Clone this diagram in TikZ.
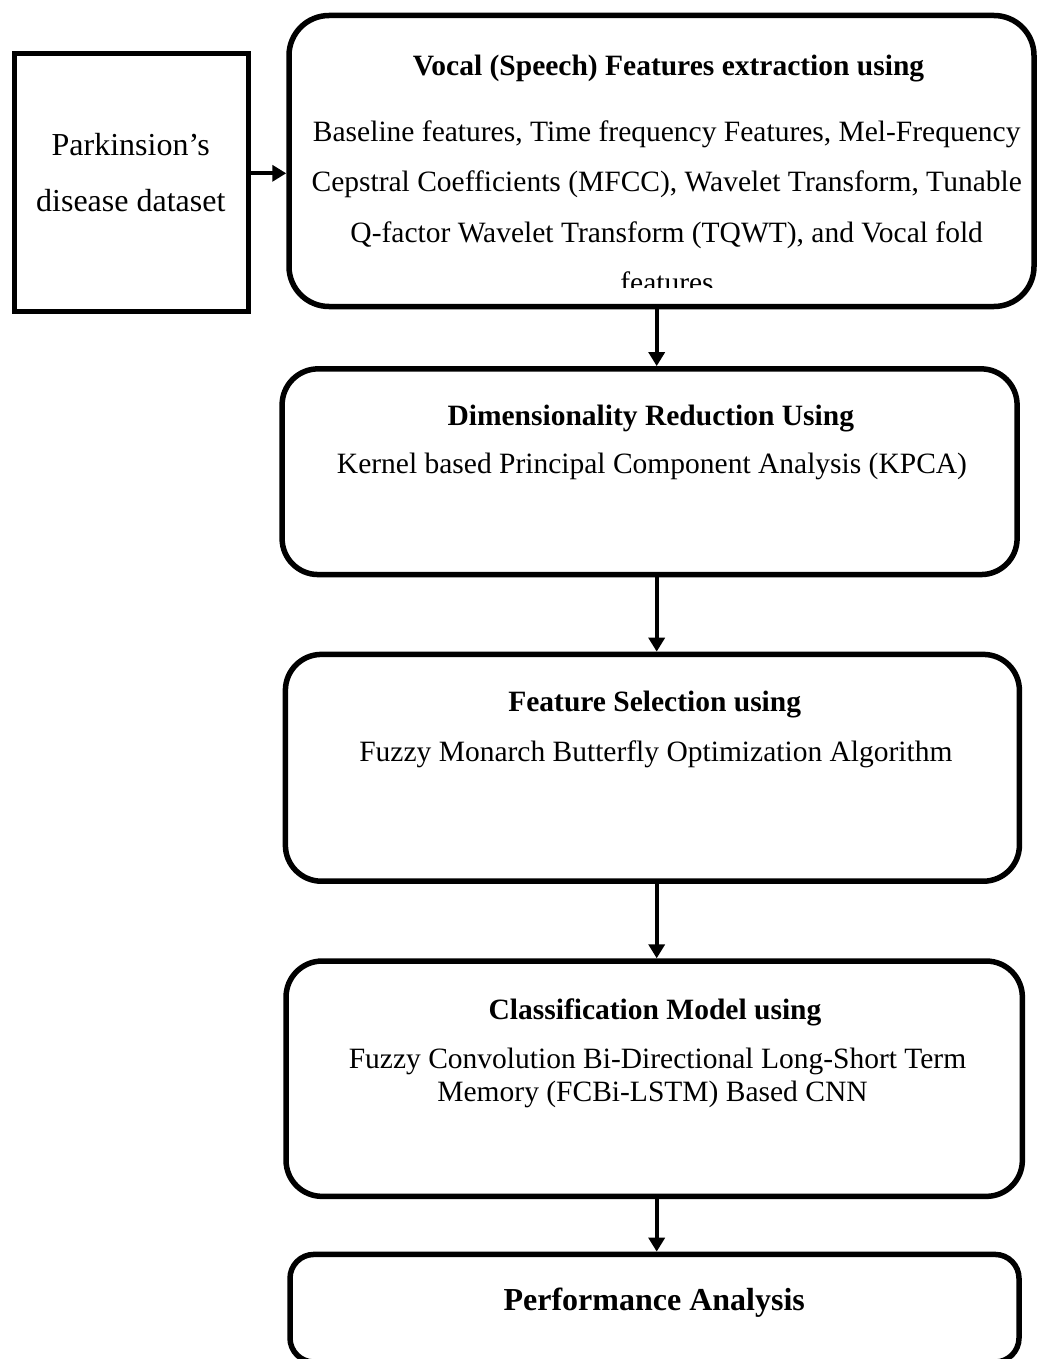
\documentclass[tikz,border=0pt]{standalone}
\usepackage{fontspec}
\setmainfont{Liberation Serif}
\usetikzlibrary{arrows.meta}
\begin{document}
\begin{tikzpicture}[x=1pt,y=-1pt,
  box/.style={draw, line width=5.5pt, rounded corners=36pt, inner sep=0pt},
  sqbox/.style={draw, line width=5pt, inner sep=0pt},
  arr/.style={line width=4pt, -{Triangle[length=14pt,width=16pt]}},
  ln/.style={anchor=base, inner sep=0pt, font=\fontsize{29.5}{34}\selectfont},
  ttl/.style={ln, font=\fontsize{29.5}{34}\selectfont\bfseries},
]
\useasboundingbox (0,0) rectangle (1037,1359);

% process boxes
\node[sqbox, minimum width=233.5pt, minimum height=258.3pt] (src) at (131.25,182.35) {};
\node[box, rounded corners=40pt, minimum width=745pt, minimum height=291pt] (vox) at (661.5,161) {};
\node[box, minimum width=735pt, minimum height=205.7pt] (dim) at (649.6,471.7) {};
\node[box, minimum width=734pt, minimum height=226.8pt] (fs) at (652.4,767.8) {};
\node[box, minimum width=736.3pt, minimum height=235.3pt] (cls) at (654.2,1078.7) {};
\node[box, rounded corners=24pt, minimum width=729pt, minimum height=107.6pt] (perf) at (654.5,1308.2) {};

% input data
\node[ln, font=\fontsize{32}{36}\selectfont] (src1) at (130.8,156) {Parkinsion’s};
\node[ln, font=\fontsize{32}{36}\selectfont] (src2) at (130.8,211.7) {disease dataset};

% feature extraction
\node[ttl] (voxT) at (668.5,76) {Vocal (Speech) Features extraction using};
\begin{scope}
  \clip (292,20) rectangle (1030,287.5);
  \node[ln] (vox1) at (666.7,142) {Baseline features, Time frequency Features, Mel-Frequency};
  \node[ln] (vox2) at (666.7,192) {Cepstral Coefficients (MFCC), Wavelet Transform, Tunable};
  \node[ln] (vox3) at (666.7,242) {Q-factor Wavelet Transform (TQWT), and Vocal fold};
  \node[ln] (vox4) at (667,292) {features};
\end{scope}

% dimensionality reduction
\node[ttl] (dimT) at (650.8,425) {Dimensionality Reduction Using};
\node[ln] (dimB) at (652,473.3) {Kernel based Principal Component Analysis (KPCA)};

% feature selection
\node[ttl] (fsT) at (654.7,711.7) {Feature Selection using};
\node[ln] (fsB) at (655.9,761.7) {Fuzzy Monarch Butterfly Optimization Algorithm};

% classification
\node[ttl] (clsT) at (655,1019.3) {Classification Model using};
\node[ln] (cls1) at (657.5,1068.3) {Fuzzy Convolution Bi-Directional Long-Short Term};
\node[ln] (cls2) at (652.5,1101.7) {Memory (FCBi-LSTM) Based CNN};

% evaluation
\node[ttl, font=\fontsize{32}{36}\selectfont\bfseries] (perfT) at (654.2,1310) {Performance Analysis};

% connectors
\coordinate (axis) at (656.7,0);
\draw[arr] (src.east |- 0,173.3) -- (vox.west |- 0,173.3);
\draw[arr] (vox.south -| axis) -- (dim.north -| axis);
\draw[arr] (dim.south -| axis) -- (fs.north -| axis);
\draw[arr] (fs.south -| axis) -- (cls.north -| axis);
\draw[arr] (cls.south -| axis) -- (perf.north -| axis);
\end{tikzpicture}
\end{document}
